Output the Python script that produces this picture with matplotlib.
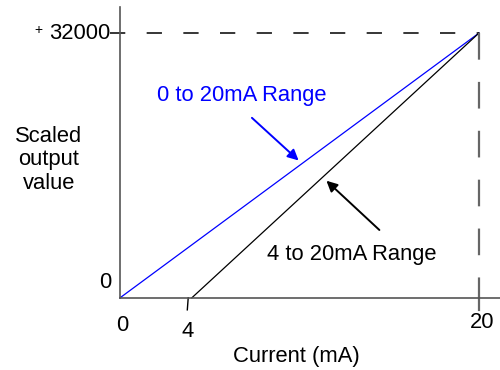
import matplotlib
matplotlib.use("Agg")
import matplotlib.pyplot as plt

plt.rcParams['font.family'] = ['Liberation Sans', 'DejaVu Sans']

# data
current_0_20 = [0, 20]
scaled_0_20 = [0, 32000]
current_4_20 = [4, 20]
scaled_4_20 = [0, 32000]
x_ticks = [0, 4, 20]
x_tick_labels = ["0", "4", "20"]
y_max_value = 32000

fig = plt.figure(figsize=(5, 3.7), dpi=100)
ax = fig.add_axes([0.24, 0.195, 0.76, 0.786])
ax.set_xlim(0, 21.17)
ax.set_ylim(0, 35140)

for s in ["top", "right"]:
    ax.spines[s].set_visible(False)
for s in ["left", "bottom"]:
    ax.spines[s].set_color("#555555")
    ax.spines[s].set_linewidth(1.2)
ax.set_xticks([])
ax.set_yticks([])

fs = 15.8

# lines
ax.plot(current_0_20, scaled_0_20, color="blue", lw=0.9, clip_on=False)
ax.plot(current_4_20, scaled_4_20, color="black", lw=0.9, clip_on=False)

# reference dashed lines
ax.plot([-0.55, 20], [y_max_value, y_max_value], color="black", lw=1.1,
        dashes=(10, 14), clip_on=False)
ax.plot([20, 20], [y_max_value, 0], color="#666666", lw=1.6,
        dashes=(12, 10), clip_on=False)

# tick marks below the x axis
ax.plot([20, 20], [0, -1450], color="#666666", lw=1.6, clip_on=False)
ax.plot([3.8, 3.75], [0, -1450], color="black", lw=1.0, clip_on=False)

# tick labels
ax.text(0.1, -3300, x_tick_labels[0], fontsize=fs, ha="center", va="center")
ax.text(3.75, -4100, x_tick_labels[1], fontsize=fs, ha="center", va="center")
ax.text(20.15, -3000, x_tick_labels[2], fontsize=fs, ha="center", va="center")
ax.text(-0.5, 1800, "0", fontsize=fs, ha="right", va="center")
ax.text(-0.55, y_max_value, "32000", fontsize=fs, ha="right", va="center")
ax.text(-4.55, y_max_value + 400, "+", fontsize=10, ha="center", va="center")

# axis labels
ax.text(9.8, -7050, "Current (mA)", fontsize=fs, ha="center", va="center")
ax.text(-3.96, 16660, "Scaled\noutput\nvalue", fontsize=fs, ha="center",
        va="center", linespacing=1.14)

# annotations
ax.text(2.05, 24500, "0 to 20mA Range", fontsize=fs, color="blue",
        ha="left", va="center")
ax.annotate("", xy=(9.95, 16600), xytext=(7.35, 21750),
            arrowprops=dict(arrowstyle="-|>", color="blue", lw=1.4,
                            mutation_scale=16, shrinkA=0, shrinkB=0))
ax.text(8.2, 5200, "4 to 20mA Range", fontsize=fs, color="black",
        ha="left", va="center")
ax.annotate("", xy=(11.5, 14150), xytext=(14.45, 8200),
            arrowprops=dict(arrowstyle="-|>", color="black", lw=1.4,
                            mutation_scale=16, shrinkA=0, shrinkB=0))

fig.savefig("out.png", dpi=100)
